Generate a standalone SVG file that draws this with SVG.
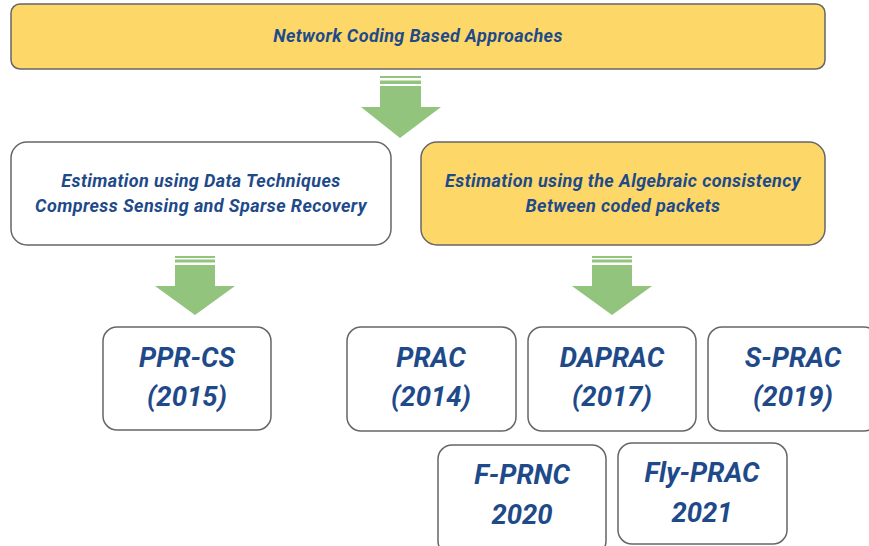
<svg xmlns="http://www.w3.org/2000/svg" width="869" height="546" viewBox="0 0 869 546">
<defs>
<style>
.box{fill:#ffffff;stroke:#666666;stroke-width:1.5}
.yel{fill:#fdd868;stroke:#666666;stroke-width:1.5}
.t{font-family:Roboto,"Liberation Sans",sans-serif;font-weight:bold;font-style:italic;fill:#1f4a8a;text-anchor:middle}
.s{font-size:18px;letter-spacing:0.4px}
.b{font-size:27.5px}
.arr{fill:#93c47d}
</style>
</defs>
<rect width="869" height="546" fill="#ffffff"/>
<g id="connectors">
<g class="arr">
<rect x="380" y="76" width="41" height="2"/>
<rect x="380" y="80.5" width="41" height="3.5"/>
<path d="M380 86 H421 V107 H441 L400 138 L361 107 H380 Z"/>
</g>
<g class="arr">
<rect x="175" y="256" width="40" height="2"/>
<rect x="175" y="259.5" width="40" height="3"/>
<path d="M175 265 H215 V286 H235 L195 315 L155 286 H175 Z"/>
</g>
<g class="arr">
<rect x="592" y="256" width="40" height="2"/>
<rect x="592" y="259.5" width="40" height="3"/>
<path d="M592 265 H632 V286 H652 L612 315 L572 286 H592 Z"/>
</g>
</g>
<g id="top">
<rect class="yel" x="11" y="4" width="814" height="65" rx="9"/>
<text class="t s" x="418" y="42">Network Coding Based Approaches</text>
</g>
<g id="data">
<rect class="box" x="11" y="142" width="380" height="103" rx="16"/>
<text class="t s" x="201" y="187">Estimation using Data Techniques</text>
<text class="t s" x="201" y="212">Compress Sensing and Sparse Recovery</text>
</g>
<g id="algebraic">
<rect class="yel" x="421" y="142" width="404" height="103" rx="16"/>
<text class="t s" x="623" y="187">Estimation using the Algebraic consistency</text>
<text class="t s" x="623" y="212">Between coded packets</text>
</g>
<g id="pprcs">
<rect class="box" x="103" y="327" width="168" height="103" rx="14"/>
<text class="t b" x="187" y="367">PPR-CS</text>
<text class="t b" x="187" y="406">(2015)</text>
</g>
<g id="prac">
<rect class="box" x="347" y="327" width="169" height="104" rx="14"/>
<text class="t b" x="431" y="367">PRAC</text>
<text class="t b" x="431" y="406">(2014)</text>
</g>
<g id="daprac">
<rect class="box" x="528" y="327" width="168" height="104" rx="14"/>
<text class="t b" x="612" y="367">DAPRAC</text>
<text class="t b" x="612" y="406">(2017)</text>
</g>
<g id="sprac">
<rect class="box" x="708" y="327" width="170" height="104" rx="14"/>
<text class="t b" x="793" y="367">S-PRAC</text>
<text class="t b" x="793" y="406">(2019)</text>
</g>
<g id="fprnc">
<rect class="box" x="438" y="445" width="168" height="110" rx="14"/>
<text class="t b" x="522" y="484">F-PRNC</text>
<text class="t b" x="522" y="524">2020</text>
</g>
<g id="flyprac">
<rect class="box" x="618" y="443" width="169" height="101" rx="14"/>
<text class="t b" x="702" y="482">Fly-PRAC</text>
<text class="t b" x="702" y="522">2021</text>
</g>
</svg>
